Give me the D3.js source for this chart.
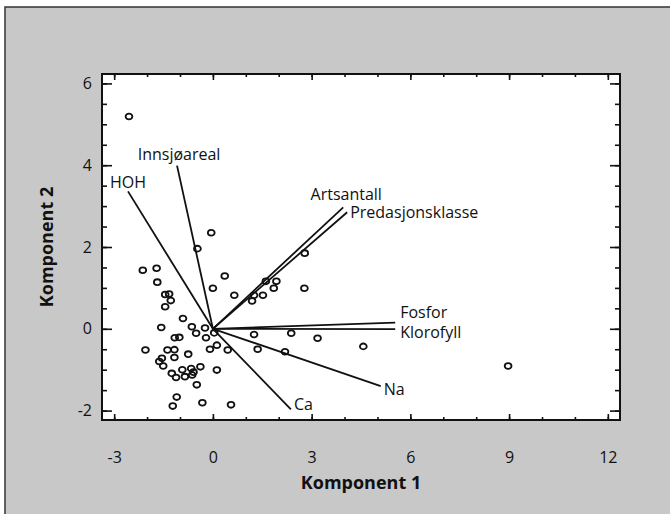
<!DOCTYPE html>
<html>
<head>
<meta charset="utf-8">
<script src="https://cdn.jsdelivr.net/npm/d3@7"></script>
<style>
  body { margin: 0; background: #fff; }
  text { font-family: "Open Sans", sans-serif; fill: #111; }
</style>
</head>
<body>
<div id="chart-wrapper"></div>
<script>
// tick labels
var xTicks = [-3, 0, 3, 6, 9, 12];
var yTicks = [-2, 0, 2, 4, 6];

// loadings (vectors from origin)
var vectorNames = ["HOH", "Innsjøareal", "Artsantall", "Predasjonsklasse", "Fosfor", "Klorofyll", "Na", "Ca"];
var vectorX = [-2.58, -1.09, 3.96, 4.08, 5.54, 5.54, 5.10, 2.37];
var vectorY = [3.36, 3.99, 2.97, 2.85, 0.15, -0.01, -1.40, -1.97];

// scores (lakes)
var scoreX = [-2.55, -2.13, -1.71, -1.69, -1.45, -1.33, -1.28, -1.45, -0.91, -1.57,
  -0.64, -0.51, -0.24, -1.16, -1.02, -2.05, -1.38, -1.17, -1.17, -0.75,
  -1.55, -1.63, -1.51, -1.25, -1.12, -0.93, -0.85, -0.66, -0.59, -0.63,
  -0.38, -0.49, -1.10, -1.22, -0.32, 0.55, 0.12, 0.12, -0.09, 0.45,
  -0.21, 0.04, 0.00, 0.36, -0.05, -0.47, 0.65, 1.19, 1.25, 1.52,
  1.61, 1.93, 1.85, 2.79, 2.78, 1.25, 2.38, 3.18, 4.57, 1.36,
  2.19, 8.97];
var scoreY = [5.19, 1.43, 1.48, 1.14, 0.84, 0.85, 0.69, 0.54, 0.25, 0.03,
  0.05, -0.11, 0.02, -0.22, -0.21, -0.52, -0.52, -0.51, -0.70, -0.62,
  -0.72, -0.80, -0.91, -1.09, -1.19, -1.00, -1.17, -0.97, -1.06, -1.13,
  -0.93, -1.37, -1.67, -1.89, -1.81, -1.86, -1.01, -0.40, -0.50, -0.52,
  -0.22, -0.10, 0.99, 1.29, 2.35, 1.96, 0.82, 0.68, 0.82, 0.82,
  1.16, 1.16, 0.99, 1.85, 0.99, -0.14, -0.11, -0.23, -0.43, -0.50,
  -0.56, -0.91];

// label placement relative to vector tip (pixels)
var labelPos = {
  "HOH": {dx: 0, dy: -3, anchor: "middle"},
  "Innsjøareal": {dx: 2, dy: -6, anchor: "middle"},
  "Artsantall": {dx: 3, dy: -7, anchor: "middle"},
  "Predasjonsklasse": {dx: 3, dy: 6, anchor: "start"},
  "Fosfor": {dx: 5, dy: -5, anchor: "start"},
  "Klorofyll": {dx: 5, dy: 9, anchor: "start"},
  "Na": {dx: 3, dy: 9, anchor: "start"},
  "Ca": {dx: 3, dy: 1, anchor: "start"}
};

var W = 670, H = 514;
var margin = {top: 74, right: 50, bottom: 94, left: 102},
    width = W - margin.left - margin.right,
    height = H - margin.top - margin.bottom;

var root = d3.select("#chart-wrapper")
  .append("svg")
    .attr("width", W)
    .attr("height", H);

// grey halftone-like panel
root.append("rect")
  .attr("x", 5).attr("y", 7)
  .attr("width", W).attr("height", H)
  .attr("fill", "#c8c8c8")
  .attr("stroke", "#333")
  .attr("stroke-width", 1.5);

var svg = root.append("g")
  .attr("transform", `translate(${margin.left},${margin.top})`);

svg.append("rect")
  .attr("width", width).attr("height", height)
  .attr("fill", "#fff");

var x = d3.scaleLinear().domain([-3.37, 12.37]).range([0, width]);
var y = d3.scaleLinear().domain([-2.23, 6.23]).range([height, 0]);

var xMinor = d3.range(-3, 13, 1);
var yMinor = d3.range(-2, 6.01, 0.5);
var plain = d => String(d);  // hyphen minus like the original

// bottom axis with labels
svg.append("g")
  .attr("transform", `translate(0,${height})`)
  .call(d3.axisBottom(x).tickValues(xTicks).tickFormat(plain).tickSize(-6).tickSizeOuter(0).tickPadding(32))
  .call(g => g.selectAll("text").style("font-size", "16px").attr("fill", "#111"));
svg.append("g")
  .attr("transform", `translate(0,${height})`)
  .call(d3.axisBottom(x).tickValues(xMinor).tickSize(-3).tickFormat(""));

// top axis, ticks only
svg.append("g")
  .call(d3.axisTop(x).tickValues(xTicks).tickSize(-6).tickFormat(""));
svg.append("g")
  .call(d3.axisTop(x).tickValues(xMinor).tickSize(-3).tickFormat(""));

// left axis with labels
svg.append("g")
  .call(d3.axisLeft(y).tickValues(yTicks).tickFormat(plain).tickSize(-10).tickSizeOuter(0).tickPadding(10))
  .call(g => g.selectAll("text").style("font-size", "16px").attr("fill", "#111"));
svg.append("g")
  .call(d3.axisLeft(y).tickValues(yMinor).tickSize(-5).tickFormat(""));

// right axis, ticks only
svg.append("g")
  .attr("transform", `translate(${width},0)`)
  .call(d3.axisRight(y).tickValues(yTicks).tickSize(-10).tickFormat(""));
svg.append("g")
  .attr("transform", `translate(${width},0)`)
  .call(d3.axisRight(y).tickValues(yMinor).tickSize(-5).tickFormat(""));

svg.selectAll(".domain").remove();
svg.selectAll(".tick line").attr("stroke", "#111").attr("stroke-width", 1.6);

// frame
svg.append("rect")
  .attr("width", width).attr("height", height)
  .attr("fill", "none")
  .attr("stroke", "#111")
  .attr("stroke-width", 2);

// vectors
svg.selectAll("vecLines")
  .data(vectorNames)
  .enter()
  .append("line")
  .attr("x1", x(0))
  .attr("y1", y(0))
  .attr("x2", (d, i) => x(vectorX[i]))
  .attr("y2", (d, i) => y(vectorY[i]))
  .attr("stroke", "#111")
  .attr("stroke-width", 1.8);

svg.selectAll("vecLabels")
  .data(vectorNames)
  .enter()
  .append("text")
  .attr("x", (d, i) => x(vectorX[i]) + labelPos[d].dx)
  .attr("y", (d, i) => y(vectorY[i]) + labelPos[d].dy)
  .attr("text-anchor", d => labelPos[d].anchor)
  .style("font-size", "16px")
  .text(d => d);

// points
svg.selectAll("pts")
  .data(scoreX)
  .enter()
  .append("ellipse")
  .attr("cx", d => x(d))
  .attr("cy", (d, i) => y(scoreY[i]))
  .attr("rx", 3.4)
  .attr("ry", 2.9)
  .attr("fill", "none")
  .attr("stroke", "#111")
  .attr("stroke-width", 1.8);

// axis titles
svg.append("text")
  .attr("x", width / 2)
  .attr("y", height + 69)
  .attr("text-anchor", "middle")
  .style("font-size", "18px")
  .style("font-weight", "bold")
  .text("Komponent 1");

svg.append("text")
  .attr("transform", `translate(${-55},${height / 2}) rotate(-90)`)
  .attr("dy", "0.35em")
  .attr("text-anchor", "middle")
  .style("font-size", "18px")
  .style("font-weight", "bold")
  .text("Komponent 2");
</script>
</body>
</html>
